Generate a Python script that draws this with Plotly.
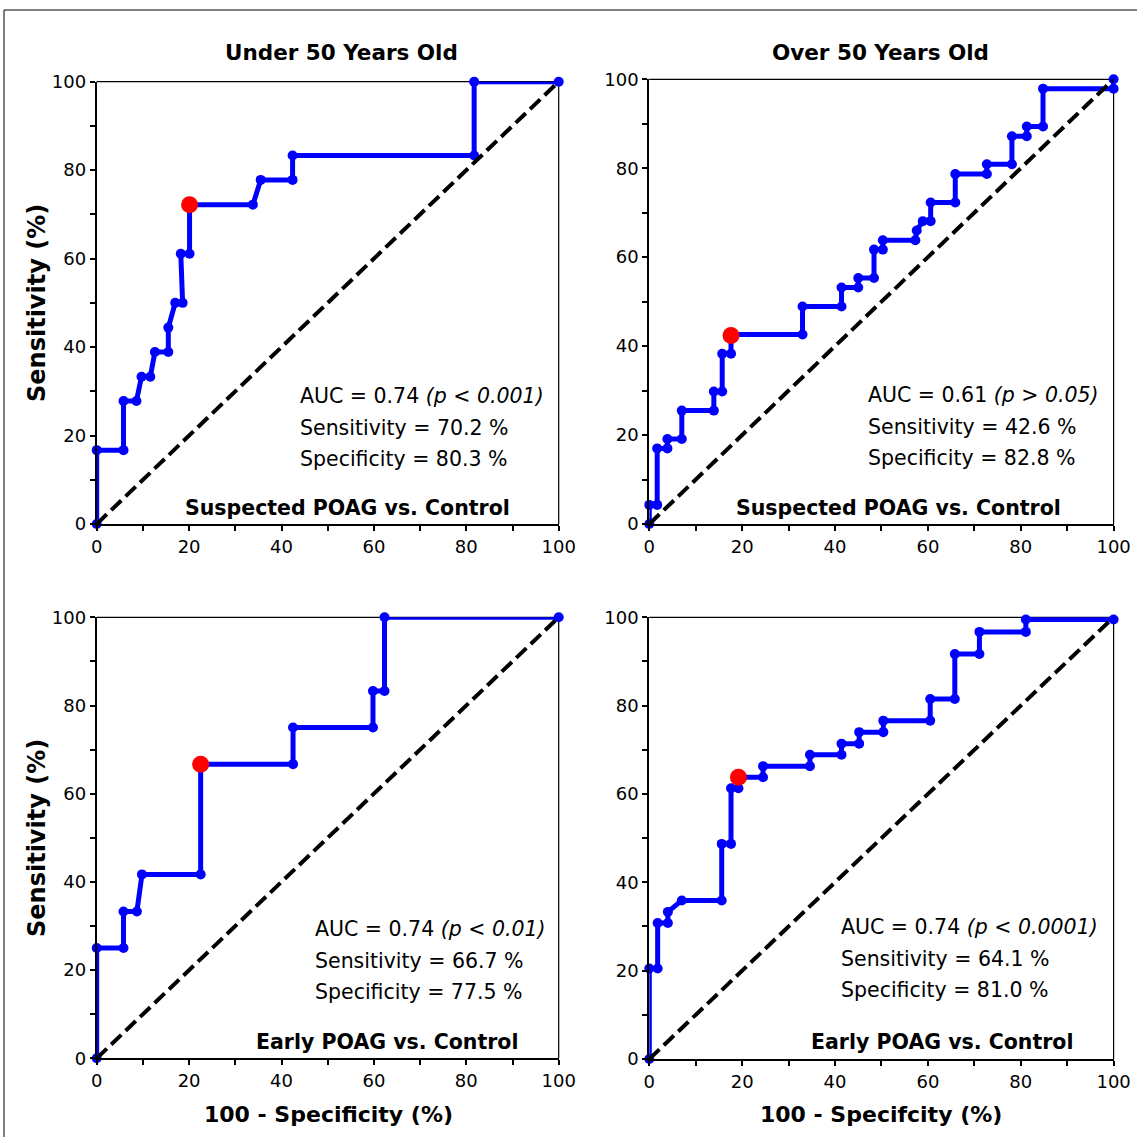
import plotly.graph_objects as go

# ROC curves: x = 100 - specificity, y = sensitivity (%)
under50_suspect_x = [0, 0, 5.8, 5.8, 8.6, 9.7, 11.6, 12.6, 15.5, 15.5, 17.0, 18.6, 18.2, 20.1, 20.1,
                     33.8, 35.5, 42.4, 42.4, 81.7, 81.7, 100]
under50_suspect_y = [0, 16.7, 16.7, 27.8, 27.8, 33.3, 33.3, 38.9, 38.9, 44.4, 50.0, 50.0, 61.1, 61.1, 72.2,
                     72.2, 77.8, 77.8, 83.3, 83.3, 100, 100]

over50_suspect_x = [0, 0, 1.7, 1.7, 3.9, 3.9, 7.0, 7.0, 13.9, 13.9, 15.7, 15.7, 17.6, 17.6, 33.0, 33.0,
                    41.4, 41.4, 45.0, 45.0, 48.4, 48.4, 50.3, 50.3, 57.3, 57.6, 58.9, 60.6, 60.6, 65.9,
                    65.9, 72.7, 72.7, 78.1, 78.1, 81.3, 81.3, 84.8, 84.8, 100, 100]
over50_suspect_y = [0, 4.3, 4.3, 17.0, 17.0, 19.1, 19.1, 25.5, 25.5, 29.8, 29.8, 38.3, 38.3, 42.6, 42.6, 48.9,
                    48.9, 53.2, 53.2, 55.3, 55.3, 61.7, 61.7, 63.8, 63.8, 66.0, 68.1, 68.1, 72.3, 72.3,
                    78.7, 78.7, 80.9, 80.9, 87.2, 87.2, 89.4, 89.4, 97.9, 97.9, 100]

under50_early_x = [0, 0, 5.8, 5.8, 8.7, 9.8, 22.5, 22.5, 42.5, 42.5, 59.8, 59.8, 62.3, 62.3, 100]
under50_early_y = [0, 25.0, 25.0, 33.3, 33.3, 41.7, 41.7, 66.7, 66.7, 75.0, 75.0, 83.3, 83.3, 100, 100]

over50_early_x = [0, 0, 1.8, 1.8, 4.0, 4.0, 7.0, 15.6, 15.6, 17.6, 17.6, 19.2, 19.2, 24.5, 24.5, 34.6,
                  34.6, 41.4, 41.4, 45.2, 45.2, 50.4, 50.4, 60.5, 60.5, 65.8, 65.8, 71.1, 71.1, 81.1,
                  81.1, 100]
over50_early_y = [0, 20.5, 20.5, 30.8, 30.8, 33.3, 35.9, 35.9, 48.7, 48.7, 61.3, 61.3, 63.8, 63.8, 66.3, 66.3,
                  68.9, 68.9, 71.4, 71.4, 74.0, 74.0, 76.6, 76.6, 81.5, 81.5, 91.7, 91.7, 96.7, 96.7,
                  99.5, 99.5]

# optimal cut-off points (red)
cut_x = [20.1, 17.6, 22.5, 19.2]
cut_y = [72.2, 42.4, 66.7, 63.8]

col_titles = ["Under 50 Years Old", "Over 50 Years Old"]
comparisons = ["Suspected POAG vs. Control", "Suspected POAG vs. Control",
               "Early POAG vs. Control", "Early POAG vs. Control"]
auc_text = ["AUC = 0.74 <i>(p < 0.001)</i>", "AUC = 0.61 <i>(p > 0.05)</i>",
            "AUC = 0.74 <i>(p < 0.01)</i>", "AUC = 0.74 <i>(p < 0.0001)</i>"]
sens_text = ["Sensitivity = 70.2 %", "Sensitivity = 42.6 %", "Sensitivity = 66.7 %", "Sensitivity = 64.1 %"]
spec_text = ["Specificity = 80.3 %", "Specificity = 82.8 %", "Specificity = 77.5 %", "Specificity = 81.0 %"]
x_titles = ["100 - Specificity (%)", "100 - Specifcity (%)"]
y_title = "Sensitivity (%)"

curves = [(under50_suspect_x, under50_suspect_y), (over50_suspect_x, over50_suspect_y),
          (under50_early_x, under50_early_y), (over50_early_x, over50_early_y)]

W = 1137
# panel boxes in pixels: (left, right, top, bottom)
boxes = [(96.7, 558.7, 81.7, 524.0), (649.3, 1113.6, 79.3, 524.0),
         (96.7, 558.7, 617.3, 1058.3), (649.3, 1113.6, 617.3, 1059.0)]

TXT = "DejaVu Sans, Verdana, sans-serif"

fig = go.Figure()
annotations = []
shapes = [dict(type="line", xref="paper", yref="paper", x0=4 / W, x1=4 / W, y0=0, y1=1 - 10 / W,
               line=dict(color="black", width=1)),
          dict(type="line", xref="paper", yref="paper", x0=4 / W, x1=1, y0=1 - 10 / W, y1=1 - 10 / W,
               line=dict(color="black", width=1))]

for i, (cx, cy) in enumerate(curves):
    n = "" if i == 0 else str(i + 1)
    xa, ya = "x" + n, "y" + n
    fig.add_trace(go.Scatter(x=cx, y=cy, xaxis=xa, yaxis=ya, mode="lines+markers",
                             line=dict(color="#0000ff", width=5),
                             marker=dict(color="#0000ff", size=10),
                             cliponaxis=False, showlegend=False))
    fig.add_trace(go.Scatter(x=[0, 100], y=[0, 100], xaxis=xa, yaxis=ya, mode="lines",
                             line=dict(color="black", width=4, dash="14px,6px"),
                             cliponaxis=False, showlegend=False))
    fig.add_trace(go.Scatter(x=[cut_x[i]], y=[cut_y[i]], xaxis=xa, yaxis=ya, mode="markers",
                             marker=dict(color="#ff0000", size=17),
                             cliponaxis=False, showlegend=False))

    l, r, t, b = boxes[i]
    common = dict(range=[0, 100], showgrid=False, zeroline=False, showline=True,
                  linecolor="black", linewidth=2, automargin=False,
                  ticks="outside", ticklen=5, tickwidth=1.5, tickcolor="black",
                  tickmode="array", tickvals=list(range(0, 101, 10)),
                  ticktext=[str(v) if v % 20 == 0 else "" for v in range(0, 101, 10)],
                  tickfont=dict(family=TXT, size=18, color="black"), fixedrange=True)
    fig.layout["xaxis" + n] = dict(common, domain=[l / W, r / W], anchor=ya)
    fig.layout["yaxis" + n] = dict(common, domain=[1 - b / W, 1 - t / W], anchor=xa)

    # thin top and right edges of the panel box
    shapes.append(dict(type="line", xref=xa + " domain", yref=ya + " domain", x0=0, x1=1, y0=1, y1=1,
                       line=dict(color="black", width=1.2), layer="below"))
    shapes.append(dict(type="line", xref=xa + " domain", yref=ya + " domain", x0=1, x1=1, y0=0, y1=1,
                       line=dict(color="black", width=1.2), layer="below"))

    # statistics text
    tx = [298, 866, 313, 839][i]
    ty = [[396, 428, 459], [395, 427, 458], [929, 961, 992], [927, 959, 990]][i]
    for txt, yy in zip([auc_text[i], sens_text[i], spec_text[i]], ty):
        annotations.append(dict(text=txt, xref="paper", yref="paper", x=tx / W, y=1 - yy / W,
                                xanchor="left", yanchor="middle", showarrow=False,
                                font=dict(family=TXT, size=20.5, color="black")))
    cmp_x = [512, 1063, 520, 1075][i]
    cmp_y = [508, 508, 1042, 1042][i]
    annotations.append(dict(text="<b>" + comparisons[i] + "</b>", xref="paper", yref="paper",
                            x=cmp_x / W, y=1 - cmp_y / W, xanchor="right", yanchor="middle",
                            showarrow=False, font=dict(family=TXT, size=20.5, color="black")))

# column titles
for k, cxp in enumerate([341, 880]):
    annotations.append(dict(text="<b>" + col_titles[k] + "</b>", xref="paper", yref="paper",
                            x=cxp / W, y=1 - 53 / W, xanchor="center", yanchor="middle",
                            showarrow=False, font=dict(family=TXT, size=21.5, color="black")))
# x-axis titles
for k, cxp in enumerate([328, 881]):
    annotations.append(dict(text="<b>" + x_titles[k] + "</b>", xref="paper", yref="paper",
                            x=cxp / W, y=1 - 1114 / W, xanchor="center", yanchor="middle",
                            showarrow=False, font=dict(family=TXT, size=22, color="black")))
# y-axis titles
for cyp in [303, 838]:
    annotations.append(dict(text="<b>" + y_title + "</b>", xref="paper", yref="paper",
                            x=37 / W, y=1 - cyp / W, xanchor="center", yanchor="middle",
                            textangle=-90, showarrow=False,
                            font=dict(family=TXT, size=24, color="black")))

fig.update_layout(
    width=W, height=W,
    margin=dict(l=0, r=0, t=0, b=0, autoexpand=False),
    paper_bgcolor="white", plot_bgcolor="white",
    annotations=annotations,
    shapes=shapes,
)

# drop the default page margin so the figure sits at the window origin
fig.write_html("out.html", config={"displayModeBar": False},
               post_script="document.body.style.margin='0';")
